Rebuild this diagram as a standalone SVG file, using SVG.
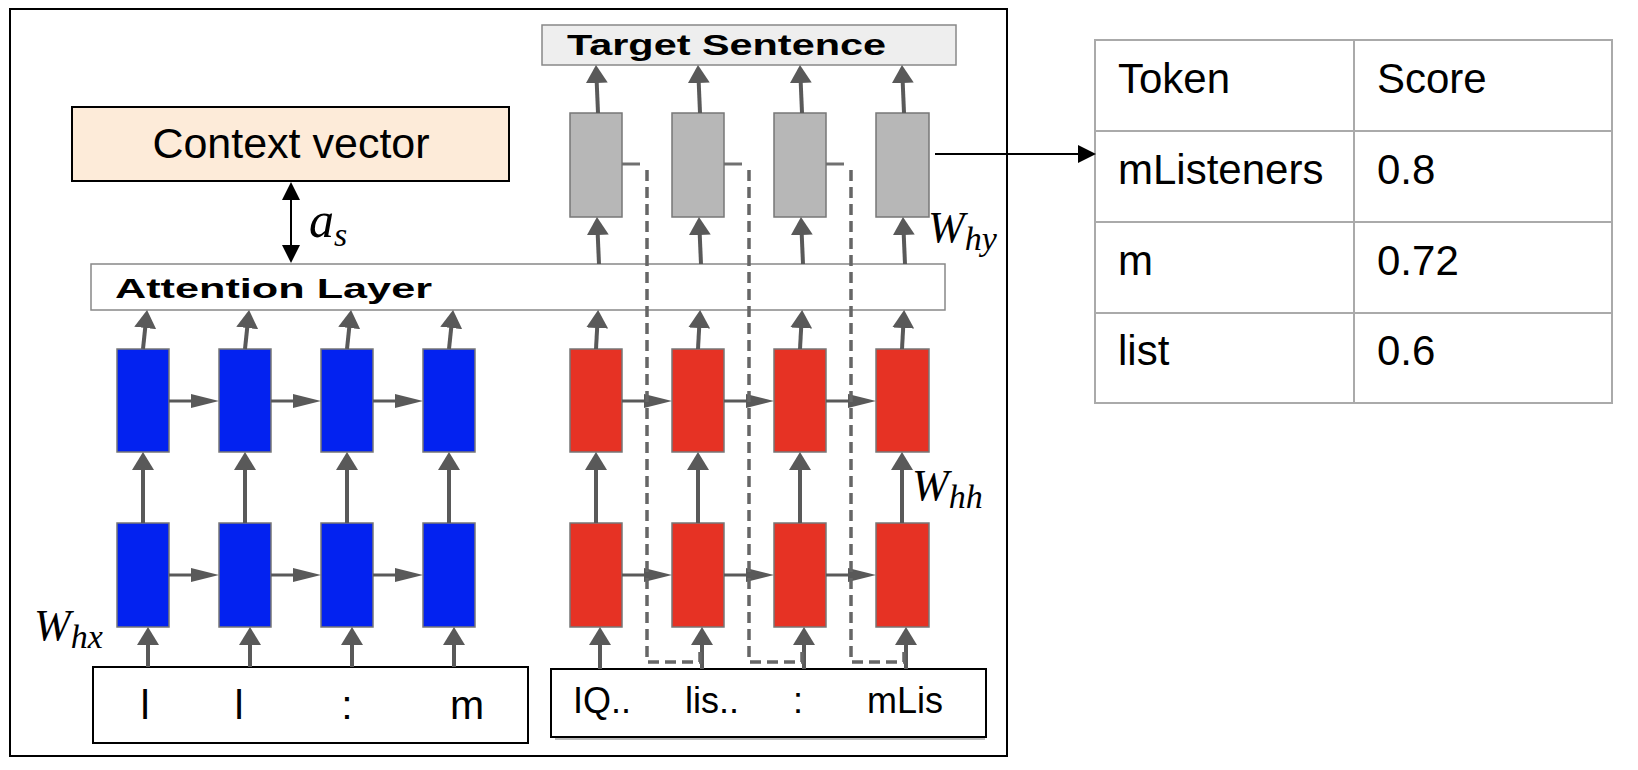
<svg xmlns="http://www.w3.org/2000/svg" width="1638" height="770" viewBox="0 0 1638 770">
<style>
.frame{fill:none;stroke:#000;stroke-width:2}
.blue{fill:#0322f0;stroke:#777;stroke-width:1.5}
.red{fill:#e63224;stroke:#777;stroke-width:1.5}
.gray{fill:#b7b7b7;stroke:#777;stroke-width:1.5}
.cv{fill:#fdebd9;stroke:#000;stroke-width:2}
.att{fill:#fff;stroke:#888;stroke-width:1.5}
.tgt{fill:#eeeeee;stroke:#888;stroke-width:1.5}
.inbox{fill:#fff;stroke:#000;stroke-width:2}
.cv-t{font-family:"Liberation Sans",Arial,sans-serif;font-size:43px;fill:#000}
.bold-t{font-family:"Liberation Sans",Arial,sans-serif;font-weight:bold;font-size:27px;fill:#000}
.in-l{font-family:"Liberation Sans",Arial,sans-serif;font-size:41px;fill:#000}
.in-r{font-family:"Liberation Sans",Arial,sans-serif;font-size:36px;fill:#000}
.math{font-family:"Liberation Serif","Times New Roman",serif;font-style:italic;font-size:44px;fill:#000}
.tbl{font-family:"Liberation Sans",Arial,sans-serif;font-size:42px;fill:#000}
.tline{stroke:#aaa;stroke-width:2;fill:none}
.av{stroke:#595959;stroke-width:4;fill:none;marker-end:url(#hv)}
.ah{stroke:#595959;stroke-width:3;fill:none;marker-end:url(#hh)}
.stub{stroke:#707070;stroke-width:3;fill:none}
.dash{stroke:#666;stroke-width:3.5;fill:none;stroke-dasharray:11 6}
.blk{stroke:#000;stroke-width:2;fill:none}
</style>
<defs>
<marker id="hv" viewBox="0 0 18 22" refX="1" refY="11" markerWidth="18" markerHeight="22" markerUnits="userSpaceOnUse" orient="auto"><path d="M0,0 L18,11 L0,22 z" fill="#595959"/></marker>
<marker id="hh" viewBox="0 0 28 14" refX="1" refY="7" markerWidth="28" markerHeight="14" markerUnits="userSpaceOnUse" orient="auto"><path d="M0,0 L28,7 L0,14 z" fill="#595959"/></marker>
<marker id="hb" viewBox="0 0 18 18" refX="1" refY="9" markerWidth="18" markerHeight="18" markerUnits="userSpaceOnUse" orient="auto-start-reverse"><path d="M0,0 L18,9 L0,18 z" fill="#000"/></marker>
</defs>

<rect class="frame" x="10" y="9" width="997" height="747"/>

<g id="context-vector">
<rect class="cv" x="72" y="107" width="437" height="74"/>
<text class="cv-t" x="291" y="158" text-anchor="middle">Context vector</text>
</g>

<g id="target-sentence">
<rect class="tgt" x="542" y="25" width="414" height="40"/>
<text class="bold-t" x="567" y="55" textLength="319" lengthAdjust="spacingAndGlyphs" style="font-size:29px">Target  Sentence</text>
</g>

<g id="attention-layer">
<rect class="att" x="91" y="264" width="854" height="46"/>
<text class="bold-t" x="115" y="298" textLength="317" lengthAdjust="spacingAndGlyphs" style="font-size:28px">Attention Layer</text>
</g>

<g id="encoder-row1">
<rect class="blue" x="117" y="349" width="52" height="103"/>
<rect class="blue" x="219" y="349" width="52" height="103"/>
<rect class="blue" x="321" y="349" width="52" height="103"/>
<rect class="blue" x="423" y="349" width="52" height="103"/>
</g>
<g id="encoder-row2">
<rect class="blue" x="117" y="523" width="52" height="104"/>
<rect class="blue" x="219" y="523" width="52" height="104"/>
<rect class="blue" x="321" y="523" width="52" height="104"/>
<rect class="blue" x="423" y="523" width="52" height="104"/>
</g>
<g id="decoder-row1">
<rect class="red" x="570" y="349" width="52" height="103"/>
<rect class="red" x="672" y="349" width="52" height="103"/>
<rect class="red" x="774" y="349" width="52" height="103"/>
<rect class="red" x="876" y="349" width="53" height="103"/>
</g>
<g id="decoder-row2">
<rect class="red" x="570" y="523" width="52" height="104"/>
<rect class="red" x="672" y="523" width="52" height="104"/>
<rect class="red" x="774" y="523" width="52" height="104"/>
<rect class="red" x="876" y="523" width="53" height="104"/>
</g>
<g id="output-cells">
<rect class="gray" x="570" y="113" width="52" height="104"/>
<rect class="gray" x="672" y="113" width="52" height="104"/>
<rect class="gray" x="774" y="113" width="52" height="104"/>
<rect class="gray" x="876" y="113" width="53" height="104"/>
</g>

<g id="input-source">
<rect class="inbox" x="93" y="667" width="435" height="76"/>
<text class="in-l" x="145" y="719" text-anchor="middle">l</text>
<text class="in-l" x="239" y="719" text-anchor="middle">l</text>
<text class="in-l" x="347" y="719" text-anchor="middle">:</text>
<text class="in-l" x="467" y="719" text-anchor="middle">m</text>
</g>

<g id="input-target">
<rect x="555" y="672" width="430" height="68" fill="#bbb"/>
<rect class="inbox" x="551" y="669" width="435" height="68"/>
<text class="in-r" x="573" y="713">IQ..</text>
<text class="in-r" x="685" y="713">lis..</text>
<text class="in-r" x="798" y="713" text-anchor="middle">:</text>
<text class="in-r" x="867" y="713">mLis</text>
</g>

<g id="labels">
<text class="math" x="309" y="237" style="font-size:50px">a<tspan font-size="34" dy="9">s</tspan></text>
<text class="math" x="34" y="640">W<tspan font-size="34" dy="8">hx</tspan></text>
<text class="math" x="928" y="242">W<tspan font-size="34" dy="8">hy</tspan></text>
<text class="math" x="912" y="500">W<tspan font-size="34" dy="8">hh</tspan></text>
</g>

<g id="score-table">
<rect class="tline" x="1095" y="40" width="517" height="363"/>
<line class="tline" x1="1354" y1="40" x2="1354" y2="403"/>
<line class="tline" x1="1095" y1="131" x2="1612" y2="131"/>
<line class="tline" x1="1095" y1="222" x2="1612" y2="222"/>
<line class="tline" x1="1095" y1="313" x2="1612" y2="313"/>
<text class="tbl" x="1118" y="93">Token</text>
<text class="tbl" x="1377" y="93">Score</text>
<text class="tbl" x="1118" y="184">mListeners</text>
<text class="tbl" x="1377" y="184">0.8</text>
<text class="tbl" x="1118" y="275">m</text>
<text class="tbl" x="1377" y="275">0.72</text>
<text class="tbl" x="1118" y="365">list</text>
<text class="tbl" x="1377" y="365">0.6</text>
</g>

<g id="connectors">
<line class="av" x1="148" y1="667" x2="148" y2="644"/>
<line class="av" x1="250" y1="667" x2="250" y2="644"/>
<line class="av" x1="352" y1="667" x2="352" y2="644"/>
<line class="av" x1="454" y1="667" x2="454" y2="644"/>
<line class="av" x1="600" y1="669" x2="600" y2="644"/>
<line class="av" x1="702" y1="669" x2="702" y2="644"/>
<line class="av" x1="804" y1="669" x2="804" y2="644"/>
<line class="av" x1="906" y1="669" x2="906" y2="644"/>
<line class="av" x1="143" y1="523" x2="143" y2="469"/>
<line class="av" x1="245" y1="523" x2="245" y2="469"/>
<line class="av" x1="347" y1="523" x2="347" y2="469"/>
<line class="av" x1="449" y1="523" x2="449" y2="469"/>
<line class="av" x1="596" y1="523" x2="596" y2="469"/>
<line class="av" x1="698" y1="523" x2="698" y2="469"/>
<line class="av" x1="800" y1="523" x2="800" y2="469"/>
<line class="av" x1="902" y1="523" x2="902" y2="469"/>
<line class="av" x1="143" y1="349" x2="145.3" y2="327"/>
<line class="av" x1="245" y1="349" x2="247.3" y2="327"/>
<line class="av" x1="347" y1="349" x2="349.3" y2="327"/>
<line class="av" x1="449" y1="349" x2="451.3" y2="327"/>
<line class="av" x1="596" y1="349" x2="597.2" y2="327"/>
<line class="av" x1="698" y1="349" x2="699.2" y2="327"/>
<line class="av" x1="800" y1="349" x2="801.2" y2="327"/>
<line class="av" x1="902" y1="349" x2="903.2" y2="327"/>
<line class="av" x1="599" y1="264" x2="597.7" y2="234"/>
<line class="av" x1="701" y1="264" x2="699.7" y2="234"/>
<line class="av" x1="803" y1="264" x2="801.7" y2="234"/>
<line class="av" x1="905" y1="264" x2="903.7" y2="234"/>
<line class="av" x1="598" y1="113" x2="596.7" y2="82"/>
<line class="av" x1="700" y1="113" x2="698.7" y2="82"/>
<line class="av" x1="802" y1="113" x2="800.7" y2="82"/>
<line class="av" x1="904" y1="113" x2="902.7" y2="82"/>
<line class="ah" x1="169" y1="401" x2="192" y2="401"/>
<line class="ah" x1="271" y1="401" x2="294" y2="401"/>
<line class="ah" x1="373" y1="401" x2="396" y2="401"/>
<line class="ah" x1="169" y1="575" x2="192" y2="575"/>
<line class="ah" x1="271" y1="575" x2="294" y2="575"/>
<line class="ah" x1="373" y1="575" x2="396" y2="575"/>
<line class="ah" x1="622" y1="401" x2="645" y2="401"/>
<line class="ah" x1="724" y1="401" x2="747" y2="401"/>
<line class="ah" x1="826" y1="401" x2="849" y2="401"/>
<line class="ah" x1="622" y1="575" x2="645" y2="575"/>
<line class="ah" x1="724" y1="575" x2="747" y2="575"/>
<line class="ah" x1="826" y1="575" x2="849" y2="575"/>
<line class="stub" x1="622" y1="164" x2="640" y2="164"/>
<line class="stub" x1="724" y1="164" x2="742" y2="164"/>
<line class="stub" x1="826" y1="164" x2="844" y2="164"/>
<path class="dash" d="M647,170 V662 H700 V646"/>
<path class="dash" d="M749,170 V662 H802 V646"/>
<path class="dash" d="M851,170 V662 H904 V646"/>
<line class="blk" x1="291" y1="199" x2="291" y2="246" style="marker-start:url(#hb);marker-end:url(#hb)"/>
<line class="blk" x1="935" y1="154" x2="1079" y2="154" style="marker-end:url(#hb)"/>
</g>
</svg>
